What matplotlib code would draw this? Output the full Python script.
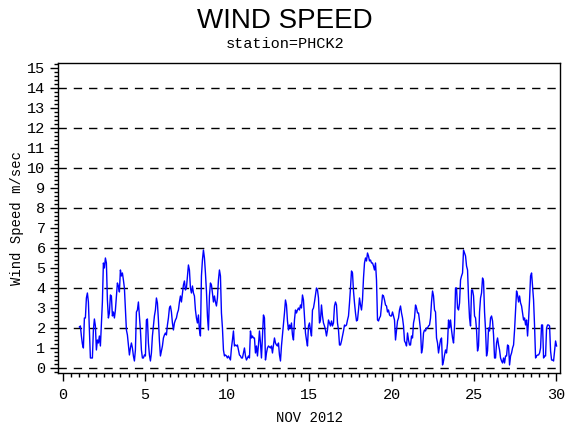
import matplotlib
matplotlib.use("Agg")
import matplotlib.pyplot as plt
from matplotlib.ticker import MultipleLocator
import numpy as np

# wind speed (m/sec), roughly every 1.5 h from Nov 1 to Nov 30
speed_a = [2.05, 2.1, 1.6, 1.2, 1.0, 2.5, 2.5, 3.5, 3.75, 3.3, 1.9, 0.5, 0.5, 0.5, 1.9, 2.45,
           2.1, 0.9, 1.4, 1.25, 1.6, 1.1, 2.2, 3.3, 5.25, 5.0, 5.5, 5.25, 3.4, 2.5, 2.75, 3.65,
           3.6, 2.6, 2.8, 2.5, 2.9, 3.6, 4.25, 4.1, 3.8, 4.9, 4.6, 4.75, 4.4, 4.0, 3.0, 1.9,
           1.65, 1.15, 0.65, 1.0, 1.25, 1.0, 0.6, 0.35, 0.9, 2.8, 2.9, 3.3, 2.6, 1.9, 0.9, 0.5,
           0.5, 0.65, 0.6, 2.4, 2.45, 1.25, 0.65, 0.35, 0.75, 1.6, 2.1, 2.6, 2.9, 3.5, 3.25, 2.4,
           1.35, 0.6, 0.85, 1.1, 1.5, 1.65, 1.75, 1.65, 2.15, 2.5, 3.0, 3.1, 2.8, 2.25, 1.9, 2.25,
           2.4, 2.5, 2.75, 2.9, 3.3, 3.6, 3.3, 3.75, 4.15, 4.35, 3.9, 4.0, 4.6, 5.15, 4.9, 4.0,
           3.75, 4.1, 3.75, 3.6, 2.9, 2.5, 2.25, 2.65, 1.9, 1.6, 4.6, 5.4, 5.9, 5.5, 4.75, 3.85,
           2.6, 1.9, 3.6, 4.25, 4.15, 3.75, 3.3, 3.6, 3.3, 3.1, 3.5, 4.4, 4.9, 4.6, 2.75, 2.0,
           0.9, 0.6, 0.65, 0.6, 0.5, 0.6, 0.5, 0.4, 1.0, 1.4, 1.85, 1.1, 1.15, 1.1, 1.15, 0.9,
           0.65, 0.6, 0.5, 0.5, 0.75, 1.0, 0.6, 0.4, 0.5, 0.6, 0.5, 1.85, 1.5, 1.6, 1.5, 1.5, 0.75]
speed_b = [1.1, 0.6, 1.15, 1.85, 1.25, 0.5, 1.6, 2.65, 2.5, 0.4, 0.75, 1.0, 1.1, 1.05, 1.0, 1.1,
           0.75, 1.15, 1.5, 1.25, 1.15, 1.1, 1.25, 0.65, 0.35, 1.1, 1.65, 2.15, 2.75, 3.4, 3.15, 2.35,
           1.9, 2.15, 2.0, 2.25, 1.65, 1.4, 2.4, 2.9, 2.75, 2.9, 3.0, 2.9, 3.15, 3.0, 3.65, 3.4,
           2.6, 1.75, 1.4, 1.1, 2.1, 2.25, 1.9, 1.6, 2.9, 3.0, 3.3, 3.65, 4.0, 3.9, 3.5, 2.25,
           2.4, 3.15, 2.6, 2.25, 2.1, 1.9, 1.6, 1.9, 2.4, 2.25, 2.1, 2.35, 2.1, 2.25, 3.1, 3.3,
           3.15, 2.25, 1.9, 1.15, 1.15, 1.35, 1.6, 1.85, 2.15, 2.1, 2.15, 2.4, 2.6, 3.25, 4.0, 4.85,
           4.75, 3.85, 3.25, 2.75, 2.35, 2.4, 2.9, 3.5, 3.15, 2.9, 3.4, 4.5, 5.25, 5.5, 5.35, 5.75,
           5.6, 5.35, 5.4, 5.25, 5.25, 5.1, 4.9, 5.25, 4.4, 2.4, 2.35, 2.5, 2.6, 3.1, 3.65, 3.6,
           3.4, 3.15, 3.1, 2.8, 2.9, 2.65, 2.6, 2.6, 2.8, 2.6, 2.4, 1.4, 1.9, 2.35, 2.5, 2.9,
           3.1, 2.75, 2.5, 2.1, 1.35, 1.25, 1.1, 1.75, 1.4, 1.15, 1.15]
speed_c = [1.6, 1.5, 2.25, 2.5, 3.15, 3.0, 2.75, 2.75, 2.35, 1.9, 0.75, 1.0, 1.75, 1.9, 1.85, 2.0,
           2.0, 2.1, 2.15, 2.5, 3.3, 3.85, 3.6, 2.9, 2.8, 1.5, 1.25, 0.75, 1.1, 1.4, 1.5, 0.15,
           0.35, 0.65, 0.9, 0.75, 1.25, 2.4, 2.0, 2.4, 1.9, 1.5, 1.25, 2.1, 4.0, 4.0, 3.0, 2.9,
           3.25, 4.4, 4.6, 4.75, 5.9, 5.75, 5.6, 5.1, 4.9, 3.5, 2.5, 2.1, 3.9, 3.9, 3.6, 2.6,
           2.5, 1.9, 0.85, 1.1, 2.8, 3.5, 3.75, 4.5, 4.35, 2.8, 1.9, 0.6, 0.85, 2.0, 1.85, 2.5,
           2.6, 2.35, 1.65, 0.5, 0.5, 1.25, 1.5, 1.15, 0.9, 0.5, 0.35, 0.25, 0.5, 0.25, 0.6, 0.6,
           1.15, 1.1, 0.15, 0.6, 0.75, 1.0, 1.15, 1.9, 2.9, 3.85, 3.65, 3.3, 3.6, 3.25, 3.1, 2.75,
           2.4, 2.5, 2.15, 2.4, 1.6, 2.4, 3.4, 4.6, 4.75, 4.1, 3.4, 2.1, 0.5, 0.6, 0.65, 0.65,
           0.75, 1.0, 2.15, 2.15, 0.5, 0.6, 0.6, 2.0, 2.15, 2.15, 2.1, 0.85, 0.4, 0.4, 0.35, 0.85,
           1.35, 1.1]

speed = speed_a + speed_b + speed_c
first_day, last_day = 1.0, 30.04
days = np.linspace(first_day, last_day, len(speed))

y_ticks = list(range(0, 16))
x_ticks = [0, 5, 10, 15, 20, 25, 30]
grid_levels = [0, 2, 4, 6, 8, 10, 12, 14]

mono = "Liberation Mono"

fig = plt.figure(figsize=(5.7, 4.3), dpi=100)
ax = fig.add_axes([0.1018, 0.1326, 0.8807, 0.7209])

for lev in grid_levels:
    ax.axhline(lev, color="black", lw=1, ls=(0, (6, 5)), zorder=1)

ax.plot(days, speed, color="#0000ff", lw=1, zorder=2)

ax.set_xlim(-0.3, 30.25)
ax.set_ylim(-0.25, 15.25)
ax.set_xticks(x_ticks)
ax.set_yticks(y_ticks)
ax.xaxis.set_minor_locator(MultipleLocator(0.5))
ax.yaxis.set_minor_locator(MultipleLocator(0.2))
ax.tick_params(which="major", length=6, width=1, labelsize=11, pad=3, direction="out")
ax.tick_params(which="minor", length=3, width=1, direction="out")
ax.tick_params(axis="x", pad=5)
for lab in ax.get_xticklabels() + ax.get_yticklabels():
    lab.set_fontfamily(mono)
ax.tick_params(top=False, right=False)
for sp in ax.spines.values():
    sp.set_linewidth(1)

ax.set_ylabel("Wind Speed m/sec", fontfamily=mono, fontsize=10, labelpad=2)
ax.set_xlabel("NOV 2012", fontfamily=mono, fontsize=10, labelpad=6)

fig.text(0.5, 0.952, "WIND SPEED", ha="center", va="center",
         fontfamily="Liberation Sans", fontsize=20)
fig.text(0.5, 0.897, "station=PHCK2", ha="center", va="center",
         fontfamily=mono, fontsize=11)

fig.savefig("out.png", dpi=100)
